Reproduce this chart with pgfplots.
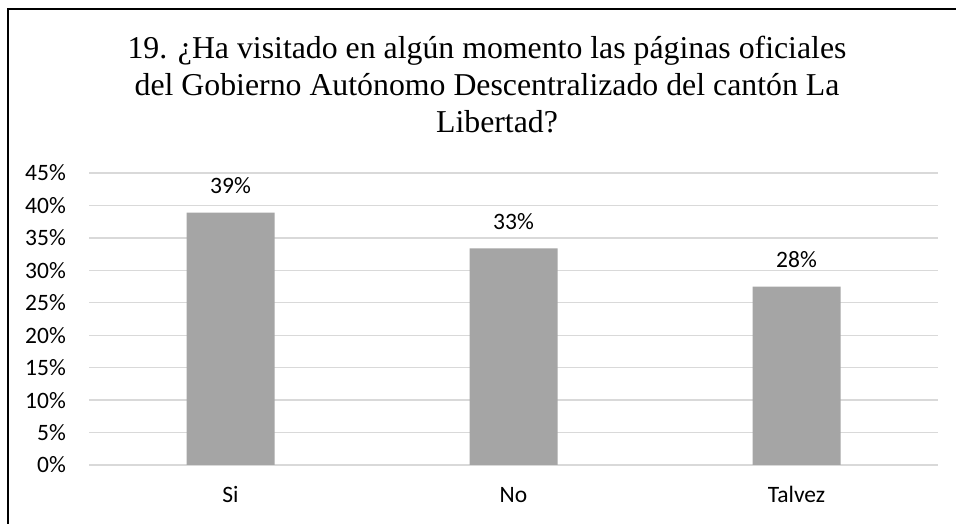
\documentclass[border=0pt]{standalone}
\usepackage{fontspec}
\setmainfont{Liberation Serif}
\newfontfamily\calibri{Carlito}
\usepackage{pgfplots}
\pgfplotsset{compat=1.18}
\definecolor{barfill}{HTML}{A5A5A5}
\definecolor{gridc}{HTML}{D9D9D9}

\begin{document}
\begin{tikzpicture}[x=1pt,y=1pt]
\useasboundingbox (0,0) rectangle (956,524);
\draw[line width=2.4pt] (8,0) -- (8,515) -- (956,515);

% title
\begin{scope}[every node/.style={anchor=base, inner sep=0pt, font=\fontsize{31.8}{31.8}\selectfont}]
\node at (487,465) {19. ¿Ha visitado en algún momento las páginas oficiales};
\node at (487,428) {del Gobierno Autónomo Descentralizado del cantón La};
\node at (497,391) {Libertad?};
\end{scope}

\begin{axis}[
  at={(89pt,59pt)}, anchor=south west,
  scale only axis, width=849pt, height=292pt,
  xmin=-0.5, xmax=2.5, ymin=0, ymax=45,
  xtick={0,1,2}, xticklabels={Si,No,Talvez},
  ytick={0,5,...,45},
  yticklabels={0\%,5\%,10\%,15\%,20\%,25\%,30\%,35\%,40\%,45\%},
  axis line style={draw=none},
  major tick length=0pt,
  ymajorgrids,
  grid style={gridc, line width=1.3pt},
  tick label style={font=\calibri\fontsize{23.5}{23.5}\selectfont, inner sep=0pt},
  yticklabel style={anchor=east, xshift=-23pt},
  xticklabel style={anchor=base, yshift=-38pt},
  ybar, bar width=88pt,
  point meta=explicit symbolic,
  nodes near coords,
  nodes near coords style={font=\calibri\fontsize{23.5}{23.5}\selectfont, anchor=base, inner sep=0pt, yshift=19pt},
]
\addplot[fill=barfill, draw=none] coordinates {
  (0, 38.9) [39\%]
  (1, 33.4) [33\%]
  (2, 27.5) [28\%]
};
\end{axis}
\end{tikzpicture}
\end{document}
